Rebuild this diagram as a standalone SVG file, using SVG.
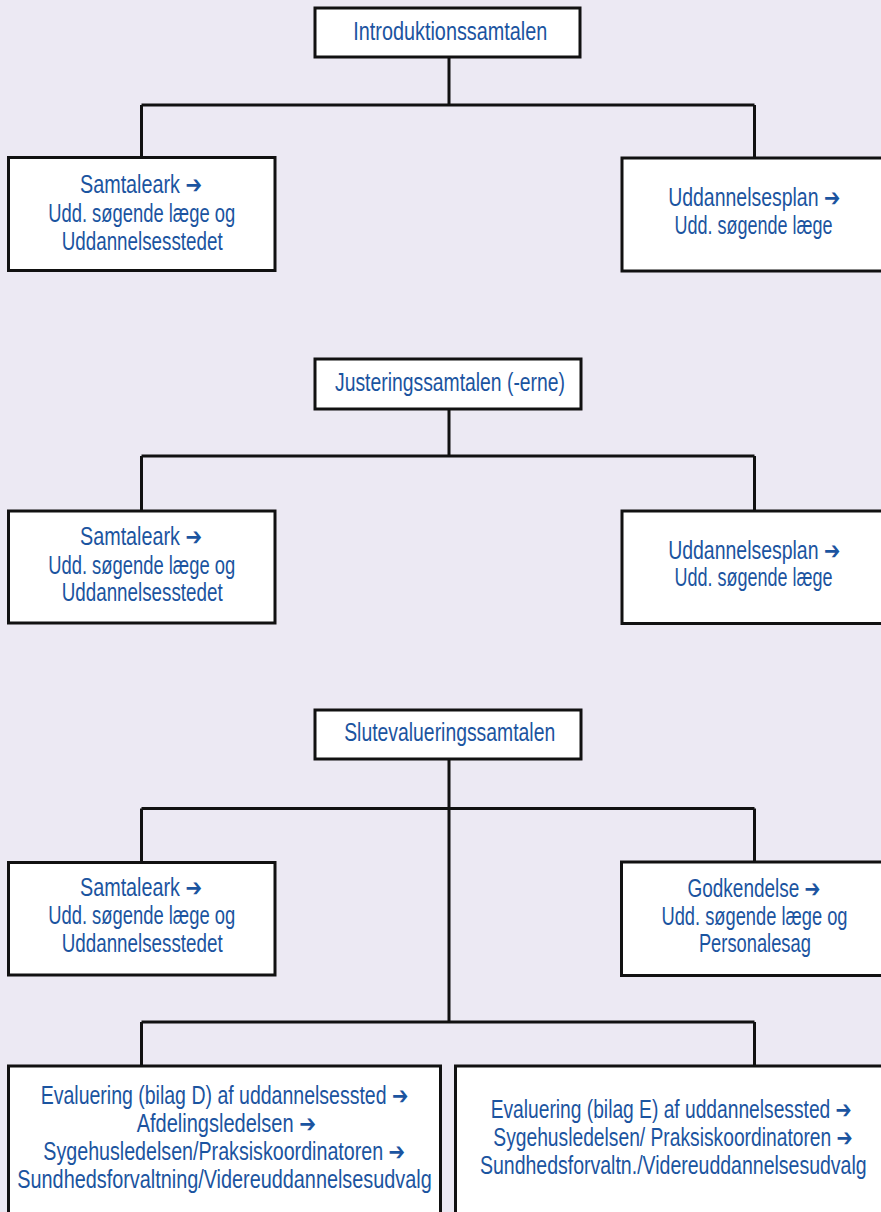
<svg xmlns="http://www.w3.org/2000/svg" width="881" height="1212" viewBox="0 0 881 1212">
<style>
.bg{fill:#ECE9F3}
.box{fill:#FFFFFF;stroke:#111111;stroke-width:3}
.ln{fill:none;stroke:#111111;stroke-width:3}
text{font-family:"Liberation Sans","DejaVu Sans",sans-serif;font-size:25px;fill:#1B54A0;text-anchor:middle}
</style>
<rect class="bg" x="0" y="0" width="881" height="1212"/>
<g id="connectors">
<path class="ln" d="M449 57V105M141.5 105H754.5M141.5 105V157M754.5 105V157"/>
<path class="ln" d="M449 409V456M141.5 456H754.5M141.5 456V511M754.5 456V511"/>
<path class="ln" d="M449 759V1022M141.5 808.5H754.5M141.5 808.5V862M754.5 808.5V862M141.5 1022H754.5M141.5 1022V1066M754.5 1022V1066"/>
</g>
<g id="n-intro">
<rect class="box" x="315" y="8" width="265" height="49"/>
<text x="450.3" y="40" textLength="194" lengthAdjust="spacingAndGlyphs">Introduktionssamtalen</text>
</g>
<g id="n-samtaleark1">
<rect class="box" x="8.5" y="157.5" width="266.5" height="113"/>
<text x="141" y="193" textLength="122" lengthAdjust="spacingAndGlyphs">Samtaleark ➔</text>
<text x="141.7" y="221.5" textLength="187" lengthAdjust="spacingAndGlyphs">Udd. søgende læge og</text>
<text x="142.2" y="249.5" textLength="161" lengthAdjust="spacingAndGlyphs">Uddannelsesstedet</text>
</g>
<g id="n-plan1">
<rect class="box" x="622" y="158" width="267" height="113"/>
<text x="754.2" y="206" textLength="172" lengthAdjust="spacingAndGlyphs">Uddannelsesplan ➔</text>
<text x="753.5" y="233.5" textLength="158" lengthAdjust="spacingAndGlyphs">Udd. søgende læge</text>
</g>
<g id="n-just">
<rect class="box" x="315" y="359" width="266" height="50"/>
<text x="450" y="391" textLength="230" lengthAdjust="spacingAndGlyphs">Justeringssamtalen (-erne)</text>
</g>
<g id="n-samtaleark2">
<rect class="box" x="8.5" y="511" width="266.5" height="112"/>
<text x="141" y="545" textLength="122" lengthAdjust="spacingAndGlyphs">Samtaleark ➔</text>
<text x="141.7" y="573.5" textLength="187" lengthAdjust="spacingAndGlyphs">Udd. søgende læge og</text>
<text x="142.2" y="601" textLength="161" lengthAdjust="spacingAndGlyphs">Uddannelsesstedet</text>
</g>
<g id="n-plan2">
<rect class="box" x="622" y="511" width="267" height="112.5"/>
<text x="754.2" y="558.5" textLength="172" lengthAdjust="spacingAndGlyphs">Uddannelsesplan ➔</text>
<text x="753.5" y="586" textLength="158" lengthAdjust="spacingAndGlyphs">Udd. søgende læge</text>
</g>
<g id="n-slut">
<rect class="box" x="315" y="710" width="266" height="49"/>
<text x="449.7" y="741" textLength="211" lengthAdjust="spacingAndGlyphs">Slutevalueringssamtalen</text>
</g>
<g id="n-samtaleark3">
<rect class="box" x="8.5" y="862.5" width="266.5" height="112.5"/>
<text x="141" y="895.5" textLength="122" lengthAdjust="spacingAndGlyphs">Samtaleark ➔</text>
<text x="141.7" y="924" textLength="187" lengthAdjust="spacingAndGlyphs">Udd. søgende læge og</text>
<text x="142.2" y="951.5" textLength="161" lengthAdjust="spacingAndGlyphs">Uddannelsesstedet</text>
</g>
<g id="n-godkendelse">
<rect class="box" x="621.5" y="862" width="267" height="113.5"/>
<text x="754" y="896.5" textLength="133" lengthAdjust="spacingAndGlyphs">Godkendelse ➔</text>
<text x="754.5" y="925" textLength="186" lengthAdjust="spacingAndGlyphs">Udd. søgende læge og</text>
<text x="754.9" y="952" textLength="112" lengthAdjust="spacingAndGlyphs">Personalesag</text>
</g>
<g id="n-evalD">
<rect class="box" x="8.5" y="1066" width="432" height="160"/>
<text x="224.5" y="1104" textLength="367.6" lengthAdjust="spacingAndGlyphs">Evaluering (bilag D) af uddannelsessted ➔</text>
<text x="226.3" y="1131.7" textLength="179.3" lengthAdjust="spacingAndGlyphs">Afdelingsledelsen ➔</text>
<text x="224.2" y="1160" textLength="361.7" lengthAdjust="spacingAndGlyphs">Sygehusledelsen/Praksiskoordinatoren ➔</text>
<text x="224.5" y="1188" textLength="414.4" lengthAdjust="spacingAndGlyphs">Sundhedsforvaltning/Videreuddannelsesudvalg</text>
</g>
<g id="n-evalE">
<rect class="box" x="455.5" y="1066" width="434" height="160"/>
<text x="671.2" y="1117.7" textLength="361" lengthAdjust="spacingAndGlyphs">Evaluering (bilag E) af uddannelsessted ➔</text>
<text x="673" y="1146" textLength="359.4" lengthAdjust="spacingAndGlyphs">Sygehusledelsen/ Praksiskoordinatoren ➔</text>
<text x="673.3" y="1174" textLength="386.7" lengthAdjust="spacingAndGlyphs">Sundhedsforvaltn./Videreuddannelsesudvalg</text>
</g>
</svg>
